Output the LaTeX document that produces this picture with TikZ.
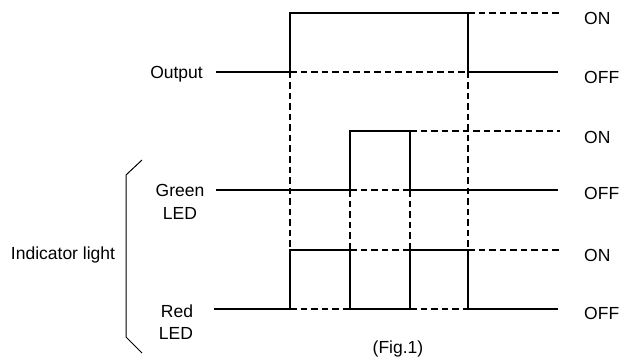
\documentclass[tikz,border=0pt]{standalone}
\usepackage{fontspec}
\setmainfont{Liberation Sans}
\begin{document}
\begin{tikzpicture}[x=1pt,y=-1pt,
  sig/.style={line width=2.6pt,line join=miter,line cap=butt},
  dsh/.style={line width=2.1pt,dash pattern=on 6.5pt off 4pt},
  lbl/.style={inner sep=0pt,font=\fontsize{17.5}{21}\selectfont},
  brace/.style={line width=1pt}]
\useasboundingbox (0,0) rectangle (630,361);
% named positions
\coordinate (xs) at (216,0);
% dashed guide lines
\draw[dsh] (468,13) -- (560,13);
\draw[dsh] (290,72) -- (468,72);
\draw[dsh] (410,131) -- (560,131);
\draw[dsh] (350,190) -- (410,190);
\draw[dsh] (350,250) -- (410,250);
\draw[dsh] (468,250) -- (560,250);
\draw[dsh] (290,309) -- (350,309);
\draw[dsh] (410,309) -- (468,309);
\draw[dsh] (290,72) -- (290,250);
\draw[dsh] (468,72) -- (468,250);
\draw[dsh] (350,190) -- (350,250);
\draw[dsh] (410,190) -- (410,250);
% signals
\draw[sig] (216,72) -- (290,72) -- (290,13) -- (468,13) -- (468,72) -- (558,72);
\draw[sig] (216,190) -- (350,190) -- (350,131) -- (410,131) -- (410,190) -- (558,190);
\draw[sig] (214,309) -- (290,309) -- (290,250) -- (350,250) -- (350,309) -- (410,309) -- (410,250) -- (468,250) -- (468,309) -- (558,309);
% bracket
\draw[brace] (142,160) -- (126,175) -- (126,337) -- (142,353);
% labels
\node[lbl,anchor=base east] (out) at (203,78.3) {Output};
\node[lbl,anchor=base] (g1) at (180,196.3) {Green};
\node[lbl,anchor=base] (g2) at (180,219.3) {LED};
\node[lbl,anchor=base] (r1) at (177,317.3) {Red};
\node[lbl,anchor=base] (r2) at (176,339.3) {LED};
\node[lbl,anchor=base] (ind) at (63,259.3) {Indicator light};
\node[lbl,anchor=base west] (on1) at (584,24.3) {ON};
\node[lbl,anchor=base west] (off1) at (584,83.3) {OFF};
\node[lbl,anchor=base west] (on2) at (584,143.3) {ON};
\node[lbl,anchor=base west] (off2) at (584,199.3) {OFF};
\node[lbl,anchor=base west] (on3) at (584,261.3) {ON};
\node[lbl,anchor=base west] (off3) at (584,319.3) {OFF};
\node[lbl,anchor=base] (fig) at (398,353) {(Fig.1)};
\end{tikzpicture}
\end{document}
